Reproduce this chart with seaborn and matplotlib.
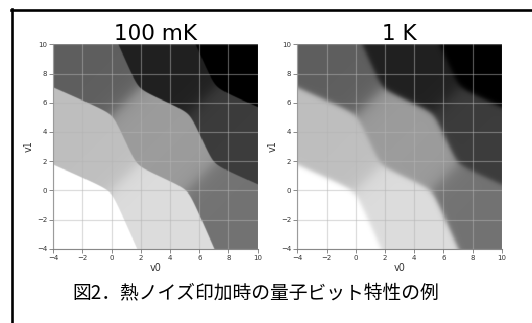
import numpy as np
import matplotlib
matplotlib.use("Agg")
import matplotlib.pyplot as plt
from matplotlib.lines import Line2D
import seaborn as sns

# ---------------- values ----------------
panel_titles = ["100 mK", "1 K"]
kT_values = [0.022, 0.10]            # thermal energy of each panel (model units)
tunnel_couplings = [0.22, 0.22]      # interdot coupling of each panel
v_min, v_max = -4.0, 10.0
tick_values = [-4, -2, 0, 2, 4, 6, 8, 10]
tick_labels = ["\u22124", "\u22122", "0", "2", "4", "6", "8", "10"]
x_label = "v0"
y_label = "v1"
caption = "図2．熱ノイズ印加時の量子ビット特性の例"

# gate lever arms: mu0 = v0 + 0.435 v1 ; mu1 = 0.44 v0 + v1
lever_arm_0 = [1.0, 0.435]
lever_arm_1 = [0.44, 1.0]
charging_energy = [5.3, 5.3]         # E0, E1
mutual_energy = 2.4                  # Em
occupations = [0, 1, 2]
# sensor grey level for each charge state, rows n0, columns n1
gray_levels = [[255, 190, 94],
               [220, 156, 32],
               [114, 60, 0]]

n_pix = 400


def stability_map(kT, t):
    v = np.linspace(v_min, v_max, n_pix)
    V0, V1 = np.meshgrid(v, v)
    mu0_all = (lever_arm_0[0] * V0 + lever_arm_0[1] * V1).ravel()
    mu1_all = (lever_arm_1[0] * V0 + lever_arm_1[1] * V1).ravel()
    E0, E1 = charging_energy
    states = [(i, j) for i in occupations for j in occupations]
    ns = len(states)
    g = np.array([gray_levels[i][j] for i, j in states], dtype=float)
    out = np.empty(mu0_all.size)
    chunk = 40000
    for start in range(0, mu0_all.size, chunk):
        mu0 = mu0_all[start:start + chunk]
        mu1 = mu1_all[start:start + chunk]
        H = np.zeros((mu0.size, ns, ns))
        for k, (i, j) in enumerate(states):
            H[:, k, k] = (E0 * i * (i - 1) / 2 + E1 * j * (j - 1) / 2
                          + mutual_energy * i * j - i * mu0 - j * mu1)
        for k, (i, j) in enumerate(states):
            for l, (p, q) in enumerate(states):
                if p == i - 1 and q == j + 1:
                    H[:, k, l] = -t
                    H[:, l, k] = -t
        w, U = np.linalg.eigh(H)
        sig = (U ** 2 * g[None, :, None]).sum(axis=1)
        bw = np.exp(-(w - w[:, :1]) / kT)
        out[start:start + chunk] = (bw * sig).sum(axis=1) / bw.sum(axis=1)
    return out.reshape(n_pix, n_pix)


fig = plt.figure(figsize=(5.32, 3.23), dpi=100)
W, Hf = 532.0, 323.0
axes_left_px = [53.3, 297.3]
ax_w_px = 204.4
ax_top_px = 44.3

tick_pos = [(tv - v_min) / (v_max - v_min) * n_pix for tv in tick_values]

for p in range(2):
    ax = fig.add_axes([axes_left_px[p] / W, 1 - (ax_top_px + ax_w_px) / Hf,
                       ax_w_px / W, ax_w_px / Hf])
    Z = stability_map(kT_values[p], tunnel_couplings[p])
    sns.heatmap(Z, ax=ax, cmap="gray", vmin=0, vmax=255, cbar=False,
                xticklabels=False, yticklabels=False, rasterized=True)
    ax.set_ylim(0, n_pix)
    ax.set_xlim(0, n_pix)
    ax.set_xticks(tick_pos)
    ax.set_xticklabels(tick_labels)
    ax.set_yticks(tick_pos)
    ax.set_yticklabels(tick_labels, rotation=0)
    ax.tick_params(axis="both", length=3, width=0.6, color="#777777",
                   labelsize=5, labelcolor="#333333", pad=1.5)
    for s in ["left", "bottom"]:
        ax.spines[s].set_visible(True)
        ax.spines[s].set_color("#888888")
        ax.spines[s].set_linewidth(0.8)
    for s in ["top", "right"]:
        ax.spines[s].set_visible(False)
    ax.grid(True, color="#b4b4b4", alpha=0.45, linewidth=0.9)
    ax.set_axisbelow(False)
    ax.set_xlabel(x_label, fontsize=7, color="#333333", labelpad=1.5)
    ax.set_ylabel(y_label, fontsize=7, color="#333333", labelpad=2)
    ax.set_title(panel_titles[p], fontsize=15.5, pad=2)

# frame of the document figure
fig.add_artist(Line2D([11.5 / W, 11.5 / W], [0, 1 - 9.0 / Hf],
                      transform=fig.transFigure, color="black", lw=1.9))
fig.add_artist(Line2D([10.6 / W, 1.0], [1 - 10.0 / Hf, 1 - 10.0 / Hf],
                      transform=fig.transFigure, color="black", lw=1.9))

fig.text(255.5 / W, 1 - 293.0 / Hf, caption, ha="center", va="center",
         fontsize=13.5, family=["Noto Sans CJK JP", "DejaVu Sans"])

fig.savefig("out.png", dpi=100)
